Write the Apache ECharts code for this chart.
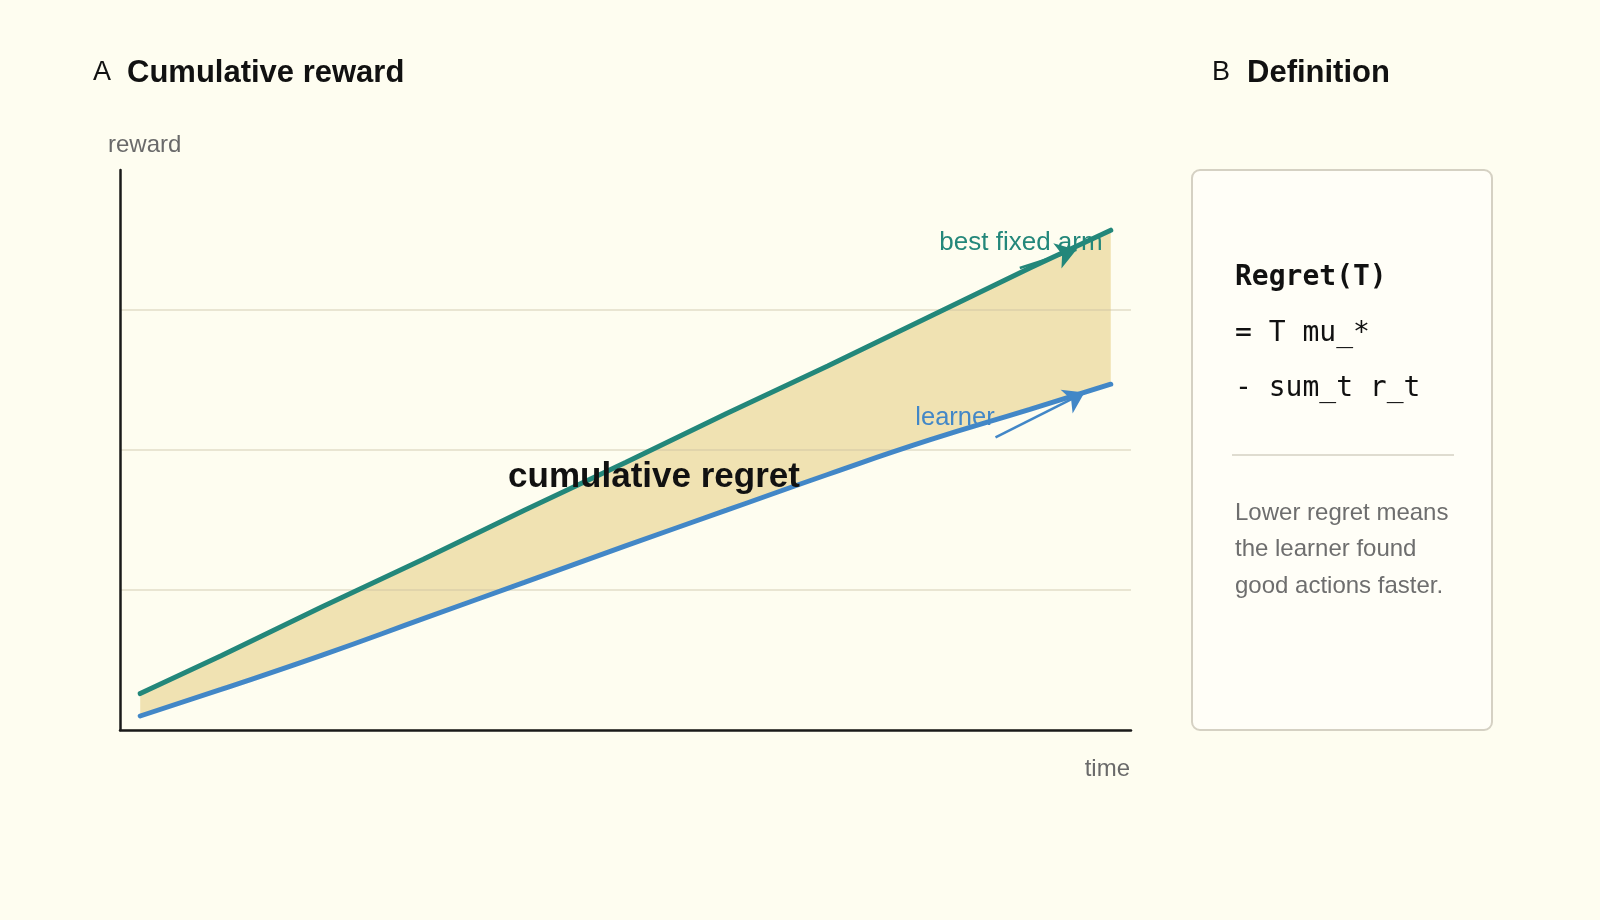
<!DOCTYPE html>
<html>
<head>
<meta charset="utf-8">
<title>Cumulative reward</title>
<script src="https://cdn.jsdelivr.net/npm/echarts@6/dist/echarts.min.js"></script>
<style>
  html, body { margin: 0; padding: 0; background: #fefdf0; }
  #chart { width: 1600px; height: 920px; }
</style>
</head>
<body>
<div id="chart"></div>
<script>
// time steps and cumulative reward
const times = [1, 5, 10, 15, 20, 25, 30, 35, 40, 45, 49];
const bestArm = [0.26, 0.53, 0.88, 1.22, 1.57, 1.91, 2.26, 2.60, 2.95, 3.30, 3.57];
const learner = [0.10, 0.29, 0.535, 0.795, 1.055, 1.315, 1.57, 1.825, 2.07, 2.29, 2.47];

// annotation arrows, [time, reward] from -> to
const bestArrow = [[44.5, 3.30], [47.3, 3.43]];
const learnerArrow = [[43.3, 2.09], [47.7, 2.41]];

const formulaLines = ['= T mu_*', '- sum_t r_t'];
const noteLines = ['Lower regret means', 'the learner found', 'good actions faster.'];

const TEAL = '#23877a';
const BLUE = '#4287c7';
const FILL = '#f0e2b2';
const SANS = '"Liberation Sans", Arial, Helvetica, sans-serif';
const MONO = '"DejaVu Sans Mono", "Liberation Mono", monospace';

const pairs = (ys) => times.map((t, i) => [t, ys[i]]);

const arrowLine = (a, color) => ({
  silent: true,
  symbol: ['none', 'arrow'],
  symbolSize: 20,
  label: { show: false },
  lineStyle: { color, width: 2.5, type: 'solid' },
  data: [[{ coord: a[0] }, { coord: a[1] }]]
});

// band between the two curves, drawn through the axes' own scales
const renderGap = (params, api) => {
  if (params.dataIndex !== 0) return null;
  const top = times.map((t, i) => api.coord([t, bestArm[i]]));
  const bottom = times.map((t, i) => api.coord([t, learner[i]])).reverse();
  return {
    type: 'polygon',
    shape: { points: top.concat(bottom) },
    style: { fill: FILL }
  };
};

const chart = echarts.init(document.getElementById('chart'));

const option = {
  backgroundColor: '#fefdf0',
  animation: false,
  grid: { left: 120, right: 469, top: 170, bottom: 190 },
  xAxis: {
    type: 'value',
    min: 0,
    max: 50,
    z: 3,
    axisLine: { show: true, lineStyle: { color: '#1a1a1a', width: 2.5 } },
    axisTick: { show: false },
    axisLabel: { show: false },
    splitLine: { show: false }
  },
  yAxis: {
    type: 'value',
    min: 0,
    max: 4,
    interval: 1,
    z: 3,
    axisLine: { show: true, lineStyle: { color: '#1a1a1a', width: 2.5 } },
    axisTick: { show: false },
    axisLabel: { show: false },
    splitLine: { show: true, showMaxLine: false, lineStyle: { color: 'rgba(200, 190, 160, 0.5)', width: 1.5 } }
  },
  series: [
    {
      name: 'cumulative regret',
      type: 'custom',
      silent: true,
      z: 1,
      renderItem: renderGap,
      data: [[times[0], learner[0]]]
    },
    {
      name: 'best fixed arm',
      type: 'line',
      symbol: 'none',
      z: 4,
      lineStyle: { color: TEAL, width: 5, cap: 'round' },
      data: pairs(bestArm),
      markLine: arrowLine(bestArrow, TEAL)
    },
    {
      name: 'learner',
      type: 'line',
      smooth: 0.5,
      symbol: 'none',
      z: 4,
      lineStyle: { color: BLUE, width: 5, cap: 'round' },
      data: pairs(learner),
      markLine: arrowLine(learnerArrow, BLUE)
    }
  ],
  graphic: [
    // panel titles
    { type: 'text', x: 93, y: 73, style: { text: 'A', font: '27px ' + SANS, fill: '#111', textVerticalAlign: 'middle' } },
    { type: 'text', x: 127, y: 73, style: { text: 'Cumulative reward', font: 'bold 31px ' + SANS, fill: '#111', textVerticalAlign: 'middle' } },
    { type: 'text', x: 1212, y: 73, style: { text: 'B', font: '27px ' + SANS, fill: '#111', textVerticalAlign: 'middle' } },
    { type: 'text', x: 1247, y: 73, style: { text: 'Definition', font: 'bold 31px ' + SANS, fill: '#111', textVerticalAlign: 'middle' } },
    // axis names
    { type: 'text', x: 108, y: 145, style: { text: 'reward', font: '24px ' + SANS, fill: '#6a6a6a', textVerticalAlign: 'middle' } },
    { type: 'text', x: 1130, y: 769, style: { text: 'time', font: '24px ' + SANS, fill: '#6a6a6a', textAlign: 'right', textVerticalAlign: 'middle' } },
    // series labels (over the band, under the lines)
    { type: 'text', x: 1021, y: 243, z: 3, style: { text: 'best fixed arm', font: '26px ' + SANS, fill: TEAL, textAlign: 'center', textVerticalAlign: 'middle' } },
    { type: 'text', x: 955, y: 418, z: 3, style: { text: 'learner', font: '25.5px ' + SANS, fill: BLUE, textAlign: 'center', textVerticalAlign: 'middle' } },
    { type: 'text', x: 654, y: 477, z: 100, style: { text: 'cumulative regret', font: 'bold 35px ' + SANS, fill: '#111', textAlign: 'center', textVerticalAlign: 'middle' } },
    // definition card
    { type: 'rect', shape: { x: 1192, y: 170, width: 300, height: 560, r: 8 }, style: { fill: '#fffef7', stroke: '#d5d1c3', lineWidth: 2 } },
    { type: 'text', x: 1235, y: 278, z: 10, style: { text: 'Regret(T)', font: 'bold 28px ' + MONO, fill: '#111', textVerticalAlign: 'middle' } },
    { type: 'text', x: 1235, y: 334, z: 10, style: { text: formulaLines[0], font: '28px ' + MONO, fill: '#111', textVerticalAlign: 'middle' } },
    { type: 'text', x: 1235, y: 389, z: 10, style: { text: formulaLines[1], font: '28px ' + MONO, fill: '#111', textVerticalAlign: 'middle' } },
    { type: 'line', z: 10, shape: { x1: 1232, y1: 455, x2: 1454, y2: 455 }, style: { stroke: '#d5d1c3', lineWidth: 1.5 } },
    ...noteLines.map((s, i) => ({
      type: 'text', x: 1235, y: 513 + i * 36.5, z: 10,
      style: { text: s, font: '24px ' + SANS, fill: '#6e6e6e', textVerticalAlign: 'middle' }
    }))
  ]
};

chart.setOption(option);
window.addEventListener('resize', () => chart.resize());
</script>
</body>
</html>
